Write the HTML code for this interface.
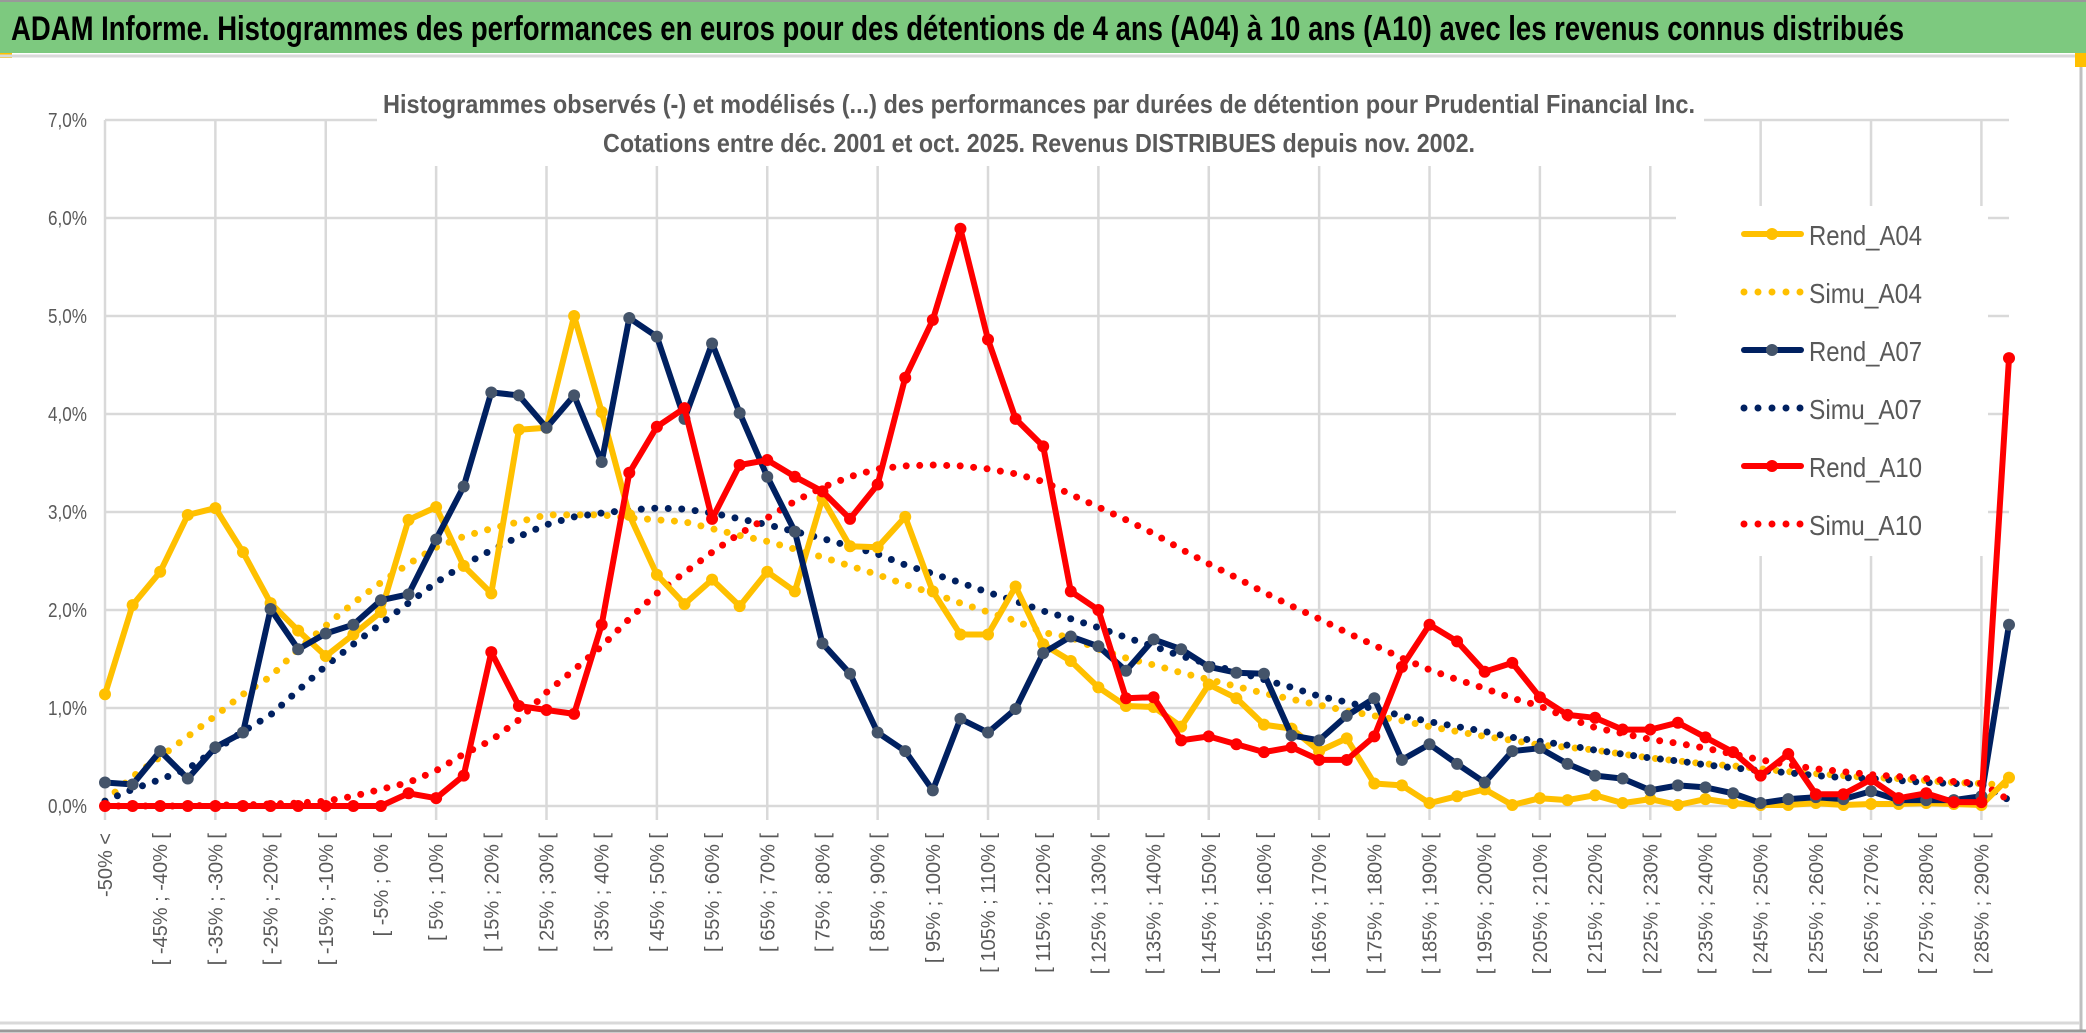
<!DOCTYPE html>
<html><head><meta charset="utf-8"><style>
html,body{margin:0;padding:0;background:#fff;}
svg{display:block;font-family:"Liberation Sans",sans-serif;}
</style></head><body>
<svg id="chart" width="2086" height="1033" viewBox="0 0 2086 1033" xmlns="http://www.w3.org/2000/svg">
<rect x="0" y="0" width="2086" height="1033" fill="#fff"/>
<rect x="0" y="1" width="2086" height="52" fill="#7dc97f"/>
<line x1="0" y1="1" x2="2086" y2="1" stroke="#999" stroke-width="2"/>
<text x="11" y="40" font-size="34" font-weight="bold" fill="#000" textLength="1893" lengthAdjust="spacingAndGlyphs">ADAM Informe. Histogrammes des performances en euros pour des détentions de 4 ans (A04) à 10 ans (A10) avec les revenus connus distribués</text>
<rect x="0" y="53" width="12" height="5" fill="#ffc000"/>
<line x1="0" y1="56" x2="2080" y2="56" stroke="#d9d9d9" stroke-width="3"/>
<line x1="2081" y1="53" x2="2081" y2="1030" stroke="#bfbfbf" stroke-width="3"/>
<rect x="2075" y="53" width="11" height="14" fill="#ffc000"/>
<line x1="0" y1="1023" x2="2080" y2="1023" stroke="#d9d9d9" stroke-width="3"/>
<line x1="0" y1="1031" x2="2086" y2="1031" stroke="#999" stroke-width="3"/>
<g id="grid"></g>
<rect x="377" y="84" width="1327" height="82" fill="#fff"/>
<text x="383" y="113" font-size="26" font-weight="bold" fill="#595959" textLength="1312" lengthAdjust="spacingAndGlyphs">Histogrammes observés (-) et modélisés (...) des performances par durées de détention pour Prudential Financial Inc.</text>
<text x="603" y="152" font-size="26" font-weight="bold" fill="#595959" textLength="872" lengthAdjust="spacingAndGlyphs">Cotations entre déc. 2001 et oct. 2025. Revenus DISTRIBUES depuis nov. 2002.</text>
<g id="ylabels"></g>
<g id="xlabels"></g>
<rect x="1676" y="206" width="312" height="350" fill="#fff"/>
<g id="series"></g>
<g id="legend"></g>
</svg>
<script>
const categoriesCount = 70;
const yTicks = ["0,0%","1,0%","2,0%","3,0%","4,0%","5,0%","6,0%","7,0%"];
const rendA04 = [1.14,2.05,2.39,2.97,3.04,2.59,2.07,1.79,1.53,1.75,1.98,2.92,3.05,2.45,2.17,3.84,3.86,5.0,4.02,2.97,2.36,2.06,2.31,2.04,2.39,2.19,3.14,2.65,2.64,2.95,2.19,1.75,1.75,2.24,1.65,1.48,1.21,1.02,1.01,0.81,1.24,1.1,0.83,0.79,0.56,0.69,0.23,0.21,0.03,0.1,0.17,0.01,0.08,0.06,0.11,0.03,0.07,0.01,0.07,0.03,0.01,0.01,0.03,0.01,0.02,0.02,0.03,0.02,0.01,0.29];
const simuA04 = [0.05,0.3,0.5,0.71,0.92,1.14,1.32,1.6,1.84,2.07,2.28,2.47,2.64,2.75,2.83,2.9,2.97,2.97,2.97,2.94,2.92,2.9,2.83,2.76,2.7,2.62,2.54,2.45,2.36,2.26,2.17,2.07,1.98,1.89,1.77,1.72,1.6,1.51,1.44,1.36,1.29,1.22,1.15,1.09,1.03,0.97,0.92,0.87,0.81,0.76,0.71,0.67,0.62,0.6,0.57,0.53,0.49,0.46,0.43,0.41,0.38,0.35,0.33,0.31,0.29,0.28,0.26,0.24,0.23,0.21];
const rendA07 = [0.24,0.22,0.56,0.28,0.6,0.75,2.01,1.6,1.76,1.85,2.1,2.16,2.72,3.26,4.22,4.19,3.86,4.19,3.51,4.98,4.79,3.95,4.72,4.01,3.36,2.8,1.66,1.35,0.75,0.56,0.16,0.89,0.75,0.99,1.56,1.73,1.63,1.38,1.7,1.6,1.42,1.36,1.35,0.72,0.67,0.92,1.1,0.47,0.63,0.43,0.24,0.56,0.59,0.43,0.31,0.28,0.16,0.21,0.19,0.13,0.03,0.07,0.09,0.07,0.15,0.06,0.06,0.06,0.1,1.85];
const simuA07 = [0.05,0.17,0.27,0.38,0.57,0.76,0.93,1.18,1.43,1.65,1.86,2.07,2.28,2.46,2.61,2.75,2.87,2.95,2.99,3.02,3.04,3.03,2.99,2.93,2.87,2.8,2.73,2.65,2.57,2.46,2.37,2.28,2.18,2.09,1.99,1.91,1.82,1.72,1.63,1.53,1.45,1.37,1.29,1.21,1.12,1.06,0.99,0.92,0.86,0.81,0.76,0.7,0.66,0.62,0.57,0.53,0.49,0.46,0.42,0.39,0.36,0.34,0.31,0.29,0.28,0.26,0.24,0.23,0.22,0.06];
const rendA10 = [0,0,0,0,0,0,0,0,0,0,0,0.13,0.08,0.31,1.57,1.02,0.98,0.94,1.85,3.4,3.87,4.06,2.93,3.48,3.53,3.36,3.21,2.93,3.28,4.37,4.96,5.89,4.76,3.95,3.67,2.19,2.0,1.1,1.11,0.67,0.71,0.63,0.55,0.6,0.47,0.47,0.71,1.42,1.85,1.68,1.37,1.46,1.11,0.93,0.9,0.78,0.78,0.85,0.7,0.55,0.31,0.53,0.12,0.12,0.27,0.08,0.13,0.04,0.04,4.57];
const simuA10 = [0,0,0,0,0.01,0.01,0.02,0.03,0.05,0.1,0.17,0.24,0.36,0.53,0.67,0.88,1.16,1.39,1.63,1.91,2.17,2.38,2.59,2.78,2.94,3.11,3.25,3.36,3.44,3.47,3.48,3.47,3.44,3.39,3.31,3.18,3.05,2.92,2.78,2.62,2.47,2.33,2.18,2.04,1.91,1.77,1.64,1.51,1.39,1.29,1.2,1.1,1.02,0.9,0.8,0.74,0.68,0.64,0.59,0.53,0.47,0.42,0.38,0.35,0.32,0.3,0.28,0.25,0.23,0.06];
const legendLabels = ["Rend_A04","Simu_A04","Rend_A07","Simu_A07","Rend_A10","Simu_A10"];

const NS = "http://www.w3.org/2000/svg";
const X0 = 105, X1 = 2009, Y0 = 806, PER = 98;
const xPos = i => X0 + (X1 - X0) * i / (categoriesCount - 1);
const yPos = v => Y0 - v * PER;
function mk(tag, attrs, parent) {
  const e = document.createElementNS(NS, tag);
  for (const k in attrs) e.setAttribute(k, attrs[k]);
  parent.appendChild(e);
  return e;
}
function catLabel(i) {
  if (i === 0) return "-50% <";
  const lo = -55 + 5 * i;
  return "[ " + lo + "% ; " + (lo + 5) + "% [";
}
const grid = document.getElementById("grid");
for (let t = 0; t < yTicks.length; t++) {
  const l = mk("line", {x1: X0, x2: X1, y1: yPos(t), y2: yPos(t), stroke: "#d9d9d9", "stroke-width": 2.5}, grid);
  
  
}
for (let i = 0; i < categoriesCount; i += 4) {
  const l = mk("line", {x1: xPos(i), x2: xPos(i), y1: yPos(7), y2: Y0 + 14, stroke: "#d9d9d9", "stroke-width": 2.5}, grid);
  
  
}
const yl = document.getElementById("ylabels");
yTicks.forEach((s, t) => {
  const e = mk("text", {x: 87, y: yPos(t) + 7, "text-anchor": "end", "font-size": 20, fill: "#595959", textLength: 39, lengthAdjust: "spacingAndGlyphs"}, yl);
  e.textContent = s;
  
  
});
const xl = document.getElementById("xlabels");
for (let i = 0; i < categoriesCount - 1; i += 2) {
  const x = xPos(i) + 7, y = 833;
  const e = mk("text", {x: x, y: y, transform: "rotate(-90 " + x + " " + y + ")", "text-anchor": "end", "font-size": 20, fill: "#595959"}, xl);
  e.textContent = catLabel(i);
  
  
}
const sg = document.getElementById("series");
function pts(arr) { return arr.map((v, i) => xPos(i).toFixed(1) + "," + yPos(v).toFixed(1)).join(" "); }
function dotted(arr, color, name) {
  const p = mk("polyline", {points: pts(arr), fill: "none", stroke: color, "stroke-width": 7, "stroke-linecap": "round", "stroke-dasharray": "0 13.5"}, sg);
  
  
}
function solid(arr, color, mcolor, name) {
  const p = mk("polyline", {points: pts(arr), fill: "none", stroke: color, "stroke-width": 6, "stroke-linejoin": "round"}, sg);
  
  
  arr.forEach((v, i) => {
    const c = mk("circle", {cx: xPos(i), cy: yPos(v), r: 6, fill: mcolor}, sg);
    
    
  });
}
dotted(simuA04, "#ffc000", "simu-a04-line");
dotted(simuA07, "#002060", "simu-a07-line");
dotted(simuA10, "#ff0000", "simu-a10-line");
solid(rendA04, "#ffc000", "#ffc000", "rend-a04-line");
solid(rendA07, "#002060", "#44546a", "rend-a07-line");
solid(rendA10, "#ff0000", "#ff0000", "rend-a10-line");

const lg = document.getElementById("legend");
const lcolors = ["#ffc000","#ffc000","#002060","#002060","#ff0000","#ff0000"];
const mcolors = ["#ffc000","#ffc000","#44546a","#44546a","#ff0000","#ff0000"];
legendLabels.forEach((s, k) => {
  const by = 245 + 58 * k, cy = by - 11;
  const g = mk("g", {}, lg);
  
  
  if (k % 2 === 0) {
    mk("line", {x1: 1744, x2: 1801, y1: cy, y2: cy, stroke: lcolors[k], "stroke-width": 6, "stroke-linecap": "round"}, g);
    mk("circle", {cx: 1772, cy: cy, r: 6, fill: mcolors[k]}, g);
  } else {
    mk("line", {x1: 1744, x2: 1802, y1: cy, y2: cy, stroke: lcolors[k], "stroke-width": 7, "stroke-linecap": "round", "stroke-dasharray": "0 14"}, g);
  }
  const t = mk("text", {x: 1809, y: by, "font-size": 28, fill: "#595959", textLength: 113, lengthAdjust: "spacingAndGlyphs"}, g);
  t.textContent = s;
});
</script>
</body></html>
